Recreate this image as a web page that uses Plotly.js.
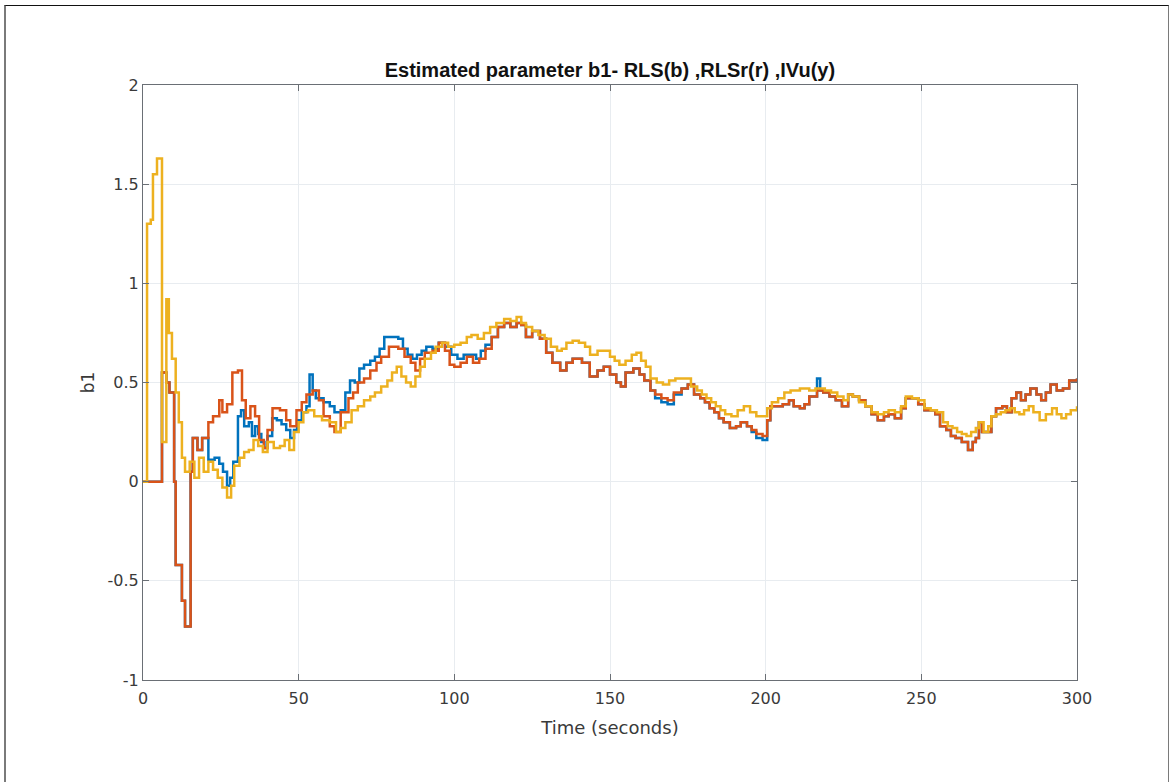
<!DOCTYPE html>
<html>
<head>
<meta charset="utf-8">
<script src="https://cdn.plot.ly/plotly-3.0.1.min.js"></script>
<style>
  html, body { margin: 0; padding: 0; background: #ffffff; }
  #wrap { position: relative; width: 1170px; height: 782px; overflow: hidden; }
  #chart { position: absolute; left: 0; top: 0; width: 1170px; height: 782px; }
  #frame { position: absolute; left: 4px; top: 5px; width: 1162px; height: 790px;
           border-left: 2px solid #7a7a7a; border-top: 1px solid #111111; border-right: 1px solid #7a7a7a;
           pointer-events: none; z-index: 5; }
</style>
</head>
<body>
<div id="wrap">
  <div id="chart"></div>
  <div id="frame"></div>
</div>
<script>
// ---- Data ----
const titleText = "Estimated parameter b1- RLS(b) ,RLSr(r) ,IVu(y)";
const xLabel = "Time (seconds)";
const yLabel = "b1";
const xTicks = [0, 50, 100, 150, 200, 250, 300];
const yTicks = [-1, -0.5, 0, 0.5, 1, 1.5, 2];
const yTickText = ["-1", "-0.5", "0", "0.5", "1", "1.5", "2"];

// RLS (blue)
const rlsT = [0, 6.1, 7.5, 8.5, 10, 10.5, 12.5, 13.5, 15.3, 16, 17.5, 19, 20, 21, 23, 24.5, 25.7, 27, 28, 29, 30.5, 31.5, 32.5, 34, 35, 36, 37, 38, 39, 40, 41.5, 43, 44.5, 46, 47.3, 48.5, 49.5, 51, 52.5, 53.5, 54.5, 55.5, 58, 60, 61.5, 63.5, 65, 66.5, 68, 69.5, 71, 73, 74.5, 76, 77.5, 80, 82, 83.5, 85, 86.5, 88, 89.5, 91, 93, 95, 97, 99, 101, 103, 105, 107, 108.5, 110, 112, 114, 116, 118, 120, 121.5, 123, 125, 127.5, 129.5, 131.5, 134, 136, 138, 141, 143.5, 146, 148, 150, 152, 153.5, 155, 157.5, 159.5, 161, 163, 164.5, 166.5, 168.5, 170.5, 173, 175, 177, 179, 180.5, 182, 183.5, 185, 186.5, 188.5, 190.5, 192, 194, 195.5, 197, 199, 200.5, 201.5, 203.5, 205.5, 207.5, 209, 211, 212.5, 214, 216.5, 217.5, 218.5, 220.5, 222.5, 224.5, 226.5, 228, 230, 232, 234, 236, 238, 239.5, 241.5, 243.5, 245, 247.5, 249, 251, 253, 254.5, 256, 258, 259.5, 261, 263, 265, 266.5, 267.5, 268.5, 269.5, 271.5, 272.5, 274, 276, 277.5, 279, 280.5, 282, 283.5, 285, 287, 288.5, 290, 291.5, 293.5, 295.5, 297.5, 300];
const rlsV = [0, 0.55, 0.5, 0.45, 0.0, -0.42, -0.6, -0.73, 0.05, 0.22, 0.16, 0.22, 0.22, 0.11, 0.12, 0.09, 0.05, -0.02, 0.02, 0.1, 0.33, 0.36, 0.28, 0.3, 0.23, 0.28, 0.24, 0.2, 0.17, 0.23, 0.32, 0.31, 0.29, 0.26, 0.22, 0.26, 0.31, 0.35, 0.38, 0.54, 0.46, 0.42, 0.4, 0.38, 0.35, 0.36, 0.45, 0.51, 0.5, 0.57, 0.59, 0.61, 0.63, 0.67, 0.73, 0.73, 0.72, 0.67, 0.64, 0.62, 0.64, 0.66, 0.68, 0.67, 0.7, 0.68, 0.64, 0.62, 0.64, 0.64, 0.62, 0.66, 0.69, 0.73, 0.78, 0.8, 0.78, 0.8, 0.79, 0.73, 0.76, 0.72, 0.65, 0.6, 0.56, 0.6, 0.62, 0.6, 0.53, 0.56, 0.58, 0.54, 0.5, 0.48, 0.55, 0.57, 0.54, 0.51, 0.46, 0.42, 0.4, 0.39, 0.44, 0.47, 0.49, 0.44, 0.42, 0.4, 0.37, 0.35, 0.32, 0.3, 0.27, 0.28, 0.3, 0.28, 0.25, 0.22, 0.21, 0.31, 0.38, 0.38, 0.39, 0.41, 0.38, 0.37, 0.39, 0.43, 0.52, 0.46, 0.45, 0.43, 0.41, 0.38, 0.44, 0.43, 0.41, 0.38, 0.34, 0.31, 0.33, 0.34, 0.32, 0.37, 0.42, 0.42, 0.39, 0.36, 0.36, 0.34, 0.28, 0.26, 0.23, 0.22, 0.2, 0.16, 0.2, 0.22, 0.3, 0.25, 0.25, 0.33, 0.37, 0.38, 0.35, 0.42, 0.45, 0.41, 0.44, 0.47, 0.44, 0.41, 0.45, 0.49, 0.46, 0.47, 0.51, 0.52];

// RLSr (orange)
const rlsrT = [0, 6.1, 7.5, 8.5, 10, 10.5, 12.5, 13.5, 15.3, 16, 17.5, 19, 21, 22.5, 24.5, 25.5, 27, 28.7, 30.5, 31.8, 33, 34.5, 36, 37.3, 38.8, 40, 41.6, 44, 46, 47.3, 49.3, 51, 52.5, 54.5, 56.5, 58, 60, 61.5, 63.5, 66, 67.5, 69, 71, 73, 75, 76.5, 79, 82, 84, 86, 87.5, 89, 90.5, 93, 95, 97, 98.5, 100, 102, 104, 106, 108, 110, 112, 114, 116, 118, 120, 121.5, 123, 125, 127.5, 129.5, 131.5, 134, 136, 138, 141, 143.5, 146, 148, 150, 152, 153.5, 155, 157.5, 159.5, 161, 163, 164.5, 166.5, 168.5, 170.5, 173, 175, 177, 179, 180.5, 182, 183.5, 185, 186.5, 188.5, 190.5, 192, 194, 195.5, 197, 199, 200.5, 201.5, 203.5, 205.5, 207.5, 209, 211, 212.5, 214, 216.5, 218.5, 220.5, 222.5, 224.5, 226.5, 228, 230, 232, 234, 236, 238, 239.5, 241.5, 243.5, 245, 247.5, 249, 251, 253, 254.5, 256, 258, 259.5, 261, 263, 265, 266.5, 267.5, 268.5, 269.5, 271.5, 272.5, 274, 276, 277.5, 279, 280.5, 282, 283.5, 285, 287, 288.5, 290, 291.5, 293.5, 295.5, 297.5, 300];
const rlsrV = [0, 0.55, 0.5, 0.45, 0.0, -0.42, -0.6, -0.73, 0.05, 0.22, 0.16, 0.22, 0.3, 0.33, 0.41, 0.35, 0.39, 0.55, 0.56, 0.41, 0.32, 0.38, 0.33, 0.21, 0.17, 0.26, 0.37, 0.36, 0.31, 0.28, 0.36, 0.4, 0.44, 0.46, 0.41, 0.33, 0.28, 0.25, 0.35, 0.42, 0.45, 0.5, 0.52, 0.56, 0.6, 0.63, 0.68, 0.67, 0.63, 0.6, 0.56, 0.62, 0.65, 0.66, 0.7, 0.66, 0.59, 0.58, 0.6, 0.63, 0.6, 0.62, 0.67, 0.73, 0.78, 0.8, 0.78, 0.8, 0.79, 0.73, 0.76, 0.72, 0.65, 0.6, 0.56, 0.6, 0.62, 0.6, 0.53, 0.56, 0.58, 0.54, 0.5, 0.48, 0.55, 0.57, 0.54, 0.51, 0.46, 0.44, 0.42, 0.41, 0.45, 0.47, 0.49, 0.44, 0.42, 0.4, 0.37, 0.35, 0.32, 0.3, 0.27, 0.28, 0.3, 0.28, 0.26, 0.24, 0.23, 0.31, 0.38, 0.38, 0.39, 0.41, 0.38, 0.37, 0.39, 0.43, 0.46, 0.45, 0.43, 0.41, 0.38, 0.44, 0.43, 0.41, 0.38, 0.34, 0.31, 0.33, 0.34, 0.32, 0.37, 0.42, 0.42, 0.39, 0.36, 0.36, 0.34, 0.28, 0.26, 0.23, 0.22, 0.2, 0.16, 0.2, 0.22, 0.3, 0.25, 0.25, 0.33, 0.37, 0.38, 0.35, 0.42, 0.45, 0.41, 0.44, 0.47, 0.44, 0.41, 0.45, 0.49, 0.46, 0.47, 0.51, 0.52];

// IVu (yellow)
const ivuT = [0, 1.3, 2.5, 3.2, 4.5, 6.1, 7.5, 8.3, 9.3, 10.5, 11.5, 12.5, 13.5, 15, 16.5, 18, 19.5, 21, 22.5, 24, 25.5, 27, 28.3, 29.3, 31, 32.5, 34, 35.5, 37, 38.5, 40, 42, 44, 45.5, 47, 48.5, 50, 51.5, 53, 55, 57.5, 60, 62, 63.5, 65, 67, 69, 71, 73, 74.5, 76.5, 78.5, 80, 81.5, 83, 84.5, 86, 87.5, 89, 90.5, 92.5, 94, 96, 98, 100, 102, 104, 105.5, 107.5, 109.5, 111.5, 113.5, 116, 118, 120, 121.5, 123, 125, 127, 129, 131, 133, 134.5, 136, 138, 140, 142, 143.6, 146, 148, 150, 151.5, 153, 155, 157, 158.5, 160, 161.5, 163, 165, 167, 169, 171, 174, 176, 178, 179.5, 181, 182.5, 184, 185.5, 187, 189, 191, 193, 195, 197, 199, 200.5, 202, 204, 206, 208, 211, 214, 216, 219, 221, 223, 225, 226.5, 228, 230, 232, 234, 236, 238, 239.5, 241.5, 243.5, 245, 247, 249, 251, 253, 255, 257, 258.5, 260, 261.5, 263, 264.5, 266, 267.5, 268.5, 270, 271.5, 272.5, 274, 275.5, 277, 278.5, 280, 281.5, 283, 284.5, 286, 288, 290, 292, 293.5, 295, 296.5, 298, 300];
const ivuV = [0, 1.3, 1.32, 1.55, 1.63, 0.2, 0.92, 0.75, 0.62, 0.45, 0.3, 0.12, 0.05, 0.1, 0.02, 0.12, 0.05, 0.1, 0.06, 0.02, -0.03, -0.08, -0.02, 0.08, 0.12, 0.15, 0.16, 0.21, 0.18, 0.15, 0.2, 0.17, 0.18, 0.21, 0.16, 0.25, 0.3, 0.35, 0.36, 0.33, 0.31, 0.3, 0.25, 0.27, 0.3, 0.36, 0.38, 0.41, 0.43, 0.45, 0.48, 0.51, 0.55, 0.58, 0.53, 0.5, 0.48, 0.53, 0.58, 0.62, 0.65, 0.68, 0.7, 0.68, 0.69, 0.7, 0.73, 0.74, 0.72, 0.75, 0.78, 0.8, 0.82, 0.81, 0.83, 0.8, 0.78, 0.76, 0.74, 0.72, 0.68, 0.66, 0.67, 0.7, 0.71, 0.7, 0.68, 0.64, 0.66, 0.66, 0.63, 0.61, 0.59, 0.61, 0.64, 0.65, 0.61, 0.58, 0.52, 0.5, 0.49, 0.51, 0.52, 0.52, 0.48, 0.46, 0.44, 0.42, 0.4, 0.38, 0.36, 0.34, 0.33, 0.36, 0.38, 0.35, 0.33, 0.33, 0.37, 0.4, 0.42, 0.45, 0.46, 0.47, 0.46, 0.47, 0.46, 0.45, 0.43, 0.41, 0.44, 0.43, 0.4, 0.38, 0.35, 0.34, 0.35, 0.36, 0.35, 0.38, 0.43, 0.42, 0.41, 0.37, 0.36, 0.35, 0.3, 0.28, 0.27, 0.25, 0.24, 0.23, 0.25, 0.27, 0.3, 0.25, 0.28, 0.33, 0.34, 0.35, 0.36, 0.37, 0.35, 0.34, 0.36, 0.38, 0.35, 0.31, 0.34, 0.37, 0.34, 0.32, 0.34, 0.36, 0.38];

// ---- Plot ----
const lineW = 2.5;
const traces = [
  { x: rlsT, y: rlsV, type: 'scatter', mode: 'lines', name: 'RLS',
    line: { color: '#0072BD', width: lineW, shape: 'hv' } },
  { x: rlsrT, y: rlsrV, type: 'scatter', mode: 'lines', name: 'RLSr',
    line: { color: '#D95319', width: lineW, shape: 'hv' } },
  { x: ivuT, y: ivuV, type: 'scatter', mode: 'lines', name: 'IVu',
    line: { color: '#EDB120', width: lineW, shape: 'hv' } }
];

const axisCommon = {
  showline: true, linecolor: '#6a6f75', linewidth: 1, mirror: 'ticks',
  ticks: 'inside', ticklen: 6, tickcolor: '#6a6f75', tickwidth: 1,
  showgrid: true, gridcolor: '#e8ecf0', gridwidth: 1,
  zeroline: false,
  tickfont: { family: 'DejaVu Sans, Arial, sans-serif', size: 16, color: '#3a3a3a' }
};

const layout = {
  width: 1170, height: 782,
  margin: { l: 143, r: 93, t: 85, b: 102 },
  paper_bgcolor: '#ffffff', plot_bgcolor: '#ffffff',
  showlegend: false,
  title: { text: titleText, x: 0.5213, xanchor: 'center', y: 0.911, yanchor: 'middle',
           font: { family: 'Liberation Sans, Arial, sans-serif', size: 20, color: '#111111', weight: 'bold' } },
  xaxis: Object.assign({}, axisCommon, {
    range: [0, 300], tickvals: xTicks, ticktext: xTicks.map(String),
    ticklabelstandoff: 4,
    title: { text: xLabel, standoff: 14, font: { family: 'DejaVu Sans, Arial, sans-serif', size: 18, color: '#3a3a3a' } }
  }),
  yaxis: Object.assign({}, axisCommon, {
    range: [-1, 2], tickvals: yTicks, ticktext: yTickText,
    title: { text: yLabel, standoff: 8, font: { family: 'DejaVu Sans, Arial, sans-serif', size: 17, color: '#3a3a3a' } }
  })
};

Plotly.newPlot('chart', traces, layout, { displayModeBar: false, staticPlot: true });
</script>
</body>
</html>
